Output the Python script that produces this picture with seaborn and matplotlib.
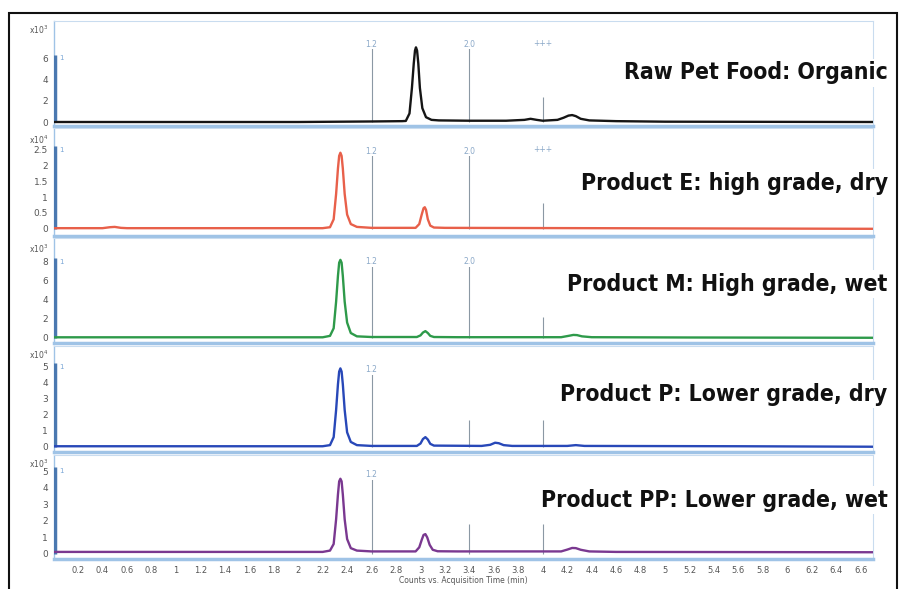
import glob
import numpy as np
import pandas as pd
import matplotlib
matplotlib.use("Agg")
import matplotlib.pyplot as plt
import seaborn as sns
from matplotlib.patches import Rectangle
from matplotlib import font_manager

# Chromatogram traces (time in min, counts in units of the panel exponent)
raw_t = [0, 2.0, 2.6, 2.85, 2.88, 2.91, 2.93, 2.945, 2.955, 2.963, 2.972, 2.982, 2.995, 3.015, 3.045, 3.09,
         3.15, 3.4, 3.7, 3.85, 3.9, 3.95, 4.0, 4.12, 4.17, 4.21, 4.24, 4.27, 4.31, 4.38, 4.6, 5.0, 6.7]
raw_y = [0, 0, 0.05, 0.08, 0.1, 0.8, 3.2, 5.5, 6.7, 7.0, 6.7, 5.5, 3.2, 1.3, 0.45, 0.2,
         0.15, 0.12, 0.12, 0.2, 0.3, 0.2, 0.12, 0.2, 0.4, 0.6, 0.65, 0.55, 0.3, 0.15, 0.08, 0.03, 0]

e_t = [0, 0.4, 0.46, 0.5, 0.55, 0.6, 2.2, 2.26, 2.29, 2.31, 2.325, 2.335, 2.345, 2.355, 2.365, 2.38, 2.40,
       2.43, 2.48, 2.6, 2.96, 2.99, 3.01, 3.025, 3.035, 3.045, 3.06, 3.08, 3.11, 3.2, 4.4, 6.7]
e_y = [0.02, 0.02, 0.05, 0.06, 0.03, 0.02, 0.02, 0.05, 0.3, 1.1, 1.9, 2.3, 2.4, 2.3, 1.9, 1.1, 0.45,
       0.15, 0.06, 0.03, 0.03, 0.15, 0.45, 0.65, 0.68, 0.6, 0.3, 0.1, 0.04, 0.03, 0.02, 0.0]

m_t = [0, 2.2, 2.26, 2.29, 2.31, 2.325, 2.335, 2.345, 2.355, 2.365, 2.38, 2.40, 2.43, 2.48, 2.6, 2.97, 3.0,
       3.02, 3.04, 3.06, 3.08, 3.11, 3.3, 4.15, 4.21, 4.25, 4.28, 4.32, 4.4, 5.2, 6.7]
m_y = [0.05, 0.05, 0.2, 1.0, 3.8, 6.5, 7.9, 8.2, 7.9, 6.5, 3.8, 1.6, 0.5, 0.15, 0.08, 0.08, 0.25,
       0.55, 0.7, 0.5, 0.2, 0.08, 0.06, 0.06, 0.2, 0.3, 0.28, 0.15, 0.06, 0.03, 0.0]

p_t = [0, 2.2, 2.26, 2.29, 2.31, 2.325, 2.335, 2.345, 2.355, 2.365, 2.38, 2.40, 2.43, 2.48, 2.6, 2.97, 3.0,
       3.02, 3.04, 3.06, 3.08, 3.11, 3.5, 3.57, 3.61, 3.64, 3.68, 3.75, 4.2, 4.27, 4.34, 5.6, 6.7]
p_y = [0.03, 0.03, 0.1, 0.6, 2.3, 3.9, 4.7, 4.9, 4.7, 3.9, 2.3, 0.9, 0.3, 0.1, 0.05, 0.05, 0.2,
       0.48, 0.6, 0.45, 0.18, 0.07, 0.05, 0.12, 0.25, 0.22, 0.1, 0.05, 0.05, 0.1, 0.05, 0.03, 0.0]

pp_t = [0, 2.2, 2.26, 2.29, 2.31, 2.325, 2.335, 2.345, 2.355, 2.365, 2.38, 2.40, 2.43, 2.48, 2.6, 2.96, 2.99,
        3.01, 3.025, 3.04, 3.055, 3.075, 3.10, 3.14, 3.3, 4.15, 4.2, 4.24, 4.27, 4.31, 4.38, 4.6, 6.7]
pp_y = [0.12, 0.12, 0.2, 0.6, 2.1, 3.6, 4.4, 4.56, 4.4, 3.6, 2.1, 0.9, 0.35, 0.2, 0.15, 0.15, 0.4,
        0.85, 1.15, 1.2, 1.0, 0.55, 0.25, 0.16, 0.15, 0.15, 0.26, 0.36, 0.35, 0.25, 0.15, 0.12, 0.1]

traces = [(raw_t, raw_y), (e_t, e_y), (m_t, m_y), (p_t, p_y), (pp_t, pp_y)]
names = ["Raw Pet Food: Organic", "Product E: high grade, dry", "Product M: High grade, wet",
         "Product P: Lower grade, dry", "Product PP: Lower grade, wet"]
colors = ["#151515", "#e8604a", "#2e9a4a", "#2848b8", "#7a3890"]
exponents = [3, 4, 3, 4, 3]
yticks = [[0, 2, 4, 6], [0, 0.5, 1, 1.5, 2, 2.5], [0, 2, 4, 6, 8], [0, 1, 2, 3, 4, 5], [0, 1, 2, 3, 4, 5]]
ylims = [(-0.375, 9.47), (-0.227, 3.18), (-0.55, 10.5), (-0.33, 6.3), (-0.31, 6.0)]

# marker lines: (time, line top, label, label height)
markers = [
    [(2.6, 7.3, "1.2", 7.3), (3.4, 7.3, "2.0", 7.3), (4.0, 2.3, "+++", 7.4)],
    [(2.6, 2.45, "1.2", 2.45), (3.4, 2.45, "2.0", 2.45), (4.0, 0.8, "+++", 2.5)],
    [(2.6, 8.0, "1.2", 8.0), (3.4, 8.0, "2.0", 8.0), (4.0, 2.2, "", 0)],
    [(2.6, 4.8, "1.2", 4.8), (3.4, 1.7, "", 0), (4.0, 1.7, "", 0)],
    [(2.6, 4.8, "1.2", 4.8), (3.4, 1.8, "", 0), (4.0, 1.8, "", 0)],
]

# panel extents in pixels (top, bottom) and label positions
panels_px = [(21, 126), (128, 236), (238, 343), (346, 452), (455, 559)]
exp_pos = [0.914, 0.89, 0.90, 0.92, 0.92]
name_pos = [0.505, 0.49, 0.56, 0.547, 0.567]
xticks = np.round(np.arange(0.2, 6.61, 0.2), 1)

sns.set_style("white")
W, H = 899, 589
fig = plt.figure(figsize=(W / 100, H / 100), dpi=100)

# pick a narrow bold face for the sample names
title_fp = None
for pat, size in [("*LiberationSansNarrow-Bold.ttf", 18.5), ("*DejaVuSansCondensed-Bold.ttf", 16.5)]:
    hits = glob.glob("/usr/share/fonts/**/" + pat, recursive=True)
    if hits:
        title_fp = font_manager.FontProperties(fname=hits[0], size=size)
        break
if title_fp is None:
    title_fp = font_manager.FontProperties(family="DejaVu Sans", weight="bold", stretch="condensed", size=16)

left, right = 53.6, 873
spine_c = "#9fc3e6"
for i, (top, bot) in enumerate(panels_px):
    ax = fig.add_axes([left / W, 1 - bot / H, (right - left) / W, (bot - top) / H])
    t, y = traces[i]
    df = pd.DataFrame({"time": t, "counts": y})
    sns.lineplot(data=df, x="time", y="counts", ax=ax, color=colors[i], lw=1.7,
                 estimator=None, sort=False, zorder=4)
    ax.set_xlim(0, 6.7)
    ax.set_ylim(*ylims[i])
    ax.set_yticks(yticks[i])
    ax.set_yticklabels([f"{v:g}" for v in yticks[i]], fontsize=6.5, color="#555555")
    ax.set_xlabel("")
    ax.set_ylabel("")
    for s in ["top", "right"]:
        ax.spines[s].set_color("#c9dcef")
        ax.spines[s].set_linewidth(0.8)
    ax.spines["left"].set_color(spine_c)
    ax.spines["left"].set_linewidth(1.0)
    ax.spines["bottom"].set_color(spine_c)
    ax.spines["bottom"].set_linewidth(2.5)
    ax.tick_params(axis="y", direction="out", length=3, width=0.8, color="#5b8fc7", pad=1)
    # thick blue window bar at start of the time range
    ax.vlines(0.01, 0, yticks[i][-1] * 1.05, color="#4a78b0", lw=2.5, zorder=3)
    ax.text(0.05, yticks[i][-1], "1", fontsize=5, color="#7aa6d6", va="center")
    for (mt, mtop, lab, ly) in markers[i]:
        ax.vlines(mt, 0, mtop, color="#8b98a4", lw=0.8, zorder=2)
        if lab:
            ax.text(mt, ly, lab, fontsize=5.5, color="#8aa8c8", ha="center", va="center",
                    bbox=dict(boxstyle="square,pad=0.05", fc="white", ec="none"), zorder=3)
    ax.text(-0.006, exp_pos[i], r"x10$^{%d}$" % exponents[i], transform=ax.transAxes,
            fontsize=5.5, color="#555555", ha="right", va="center")
    ax.text(1.018, name_pos[i], names[i], transform=ax.transAxes, ha="right", va="center",
            fontproperties=title_fp, color="#111111", clip_on=False,
            bbox=dict(boxstyle="square,pad=0.1", fc="white", ec="none"), zorder=6)
    if i < 4:
        ax.set_xticks([])
    else:
        ax.set_xticks(xticks)
        ax.set_xticklabels([f"{v:g}" for v in xticks], fontsize=6, color="#555555")
        ax.tick_params(axis="x", direction="out", length=3, width=0.8, color="#5b8fc7", pad=2)
        ax.set_xlabel("Counts vs. Acquisition Time (min)", fontsize=5.5, color="#555555", labelpad=1)

fig.patches.append(Rectangle((9 / W, -0.01), (897 - 9) / W, 1.01 - 13 / H, transform=fig.transFigure,
                             fill=False, ec="#111111", lw=1.5))

fig.savefig("out.png", dpi=100, facecolor="white")
